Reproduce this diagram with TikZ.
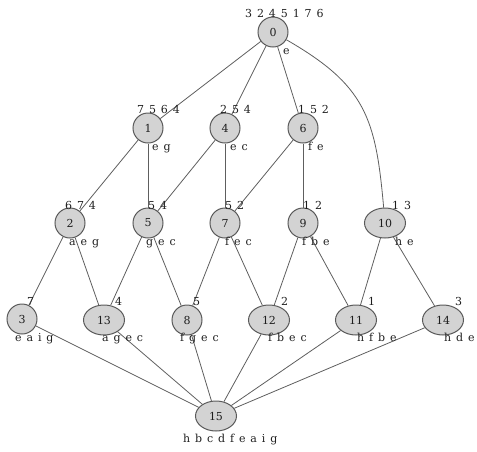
\documentclass[tikz,border=0pt]{standalone}
\usepackage{fontspec}
\usetikzlibrary{shapes.geometric}
\setmainfont{DejaVu Serif}
\newfontfamily\attrfont[WordSpace=1.4]{DejaVu Serif}
\definecolor{nodefill}{HTML}{D3D3D3}
\definecolor{nodeline}{HTML}{5A5A5A}
\definecolor{edgeline}{HTML}{5E5E5E}
\definecolor{labeltext}{HTML}{1E1E1E}
\begin{document}
\begin{tikzpicture}[x=1pt,y=1pt,
    concept/.style={circle,draw=nodeline,fill=nodefill,line width=1pt,minimum size=30pt,inner sep=0pt,font=\fontsize{11}{13}\selectfont,text=labeltext},
    wide/.style={concept,ellipse,minimum width=41pt,minimum height=30pt},
    attr/.style={anchor=base west,inner sep=0pt,font=\attrfont\fontsize{11}{13}\selectfont,text=labeltext},
    link/.style={draw=edgeline,line width=0.8pt}]
  \useasboundingbox (0,0) rectangle (477,-451);
  % concepts
  \node [concept] (n0) at (273,-32) {0};
  \node [concept] (n1) at (148,-128) {1};
  \node [concept] (n4) at (225,-128) {4};
  \node [concept] (n6) at (303,-128) {6};
  \node [concept] (n2) at (70,-223) {2};
  \node [concept] (n5) at (148,-223) {5};
  \node [concept] (n7) at (225,-223) {7};
  \node [concept] (n9) at (303,-223) {9};
  \node [wide] (n10) at (385,-223) {10};
  \node [concept] (n3) at (22,-319) {3};
  \node [wide] (n13) at (104,-320) {13};
  \node [concept] (n8) at (187,-320) {8};
  \node [wide] (n12) at (269,-320) {12};
  \node [wide] (n11) at (356,-320) {11};
  \node [wide] (n14) at (443,-320) {14};
  \node [wide] (n15) at (216,-416) {15};
  % edges
  \foreach \a/\b in {0/1,0/4,0/6,1/2,1/5,4/5,4/7,6/7,6/9,2/3,2/13,5/13,5/8,7/8,7/12,9/12,9/11,10/11,10/14,3/15,13/15,8/15,12/15,11/15,14/15}
    \draw [link] (n\a) -- (n\b);
  \draw [link] (n0) to[out=-30,in=95,looseness=1.2] (n10);
  % objects above
  \node [attr] (u0) at (245,-17) {3 2 4 5 1 7 6};
  \node [attr] (u1) at (137,-113) {7 5 6 4};
  \node [attr] (u4) at (220,-113) {2 5 4};
  \node [attr] (u6) at (298,-113) {1 5 2};
  \node [attr] (u2) at (65,-209) {6 7 4};
  \node [attr] (u5) at (148,-209) {5 4};
  \node [attr] (u7) at (225,-209) {5 2};
  \node [attr] (u9) at (303,-209) {1 2};
  \node [attr] (u10) at (392,-209) {1 3};
  \node [attr] (u3) at (27,-305) {7};
  \node [attr] (u13) at (115,-305) {4};
  \node [attr] (u8) at (193,-305) {5};
  \node [attr] (u12) at (281,-305) {2};
  \node [attr] (u11) at (368,-305) {1};
  \node [attr] (u14) at (455,-305) {3};
  % attributes below
  \node [attr] (l0) at (283,-54) {e};
  \node [attr] (l1) at (152,-150) {e g};
  \node [attr] (l4) at (230,-150) {e c};
  \node [attr] (l6) at (308,-150) {f e};
  \node [attr] (l2) at (69,-245) {a e g};
  \node [attr] (l5) at (146,-245) {g e c};
  \node [attr] (l7) at (225,-245) {f e c};
  \node [attr] (l9) at (302,-245) {f b e};
  \node [attr] (l10) at (395,-245) {h e};
  \node [attr] (l3) at (15,-341) {e a i g};
  \node [attr] (l13) at (102,-341) {a g e c};
  \node [attr] (l8) at (180,-341) {f g e c};
  \node [attr] (l12) at (268,-341) {f b e c};
  \node [attr] (l11) at (357,-341) {h f b e};
  \node [attr] (l14) at (444,-341) {h d e};
  \node [attr] (l15) at (183,-442) {h b c d f e a i g};
\end{tikzpicture}
\end{document}
